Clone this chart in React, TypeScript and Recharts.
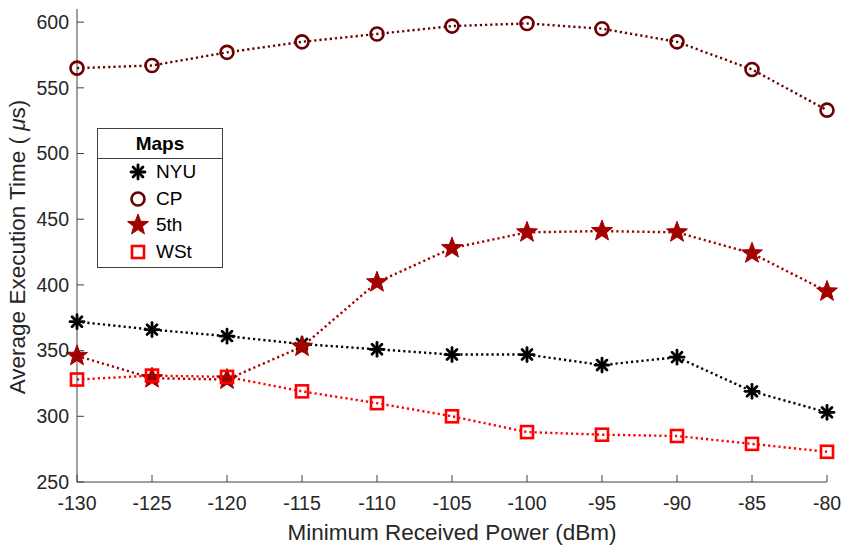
import React from 'react';
import { LineChart, Line, XAxis, YAxis } from 'recharts';

const powerLevels = [-130, -125, -120, -115, -110, -105, -100, -95, -90, -85, -80];
const nyuTimes = [372, 366, 361, 355, 351, 347, 347, 339, 345, 319, 303];
const cpTimes = [565, 567, 577, 585, 591, 597, 599, 595, 585, 564, 533];
const fifthTimes = [346, 329, 328, 353, 402, 428, 440, 441, 440, 424, 395];
const wstTimes = [328, 331, 330, 319, 310, 300, 288, 286, 285, 279, 273];

const xTicks = [-130, -125, -120, -115, -110, -105, -100, -95, -90, -85, -80];
const yTicks = [250, 300, 350, 400, 450, 500, 550, 600];

const data = powerLevels.map((p, i) => ({
  power: p,
  nyu: nyuTimes[i],
  cp: cpTimes[i],
  fifth: fifthTimes[i],
  wst: wstTimes[i],
}));

const FONT = '"Liberation Sans", Arial, Helvetica, sans-serif';
const AXIS = '#404040';
const TEXT = '#262626';
const TICK_LEN = 7;

const COLORS = {
  nyu: '#000000',
  cp: '#6b0000',
  fifth: '#a30000',
  wst: '#ff0000',
};

// Marker shapes
const Asterisk = ({ cx, cy, color = COLORS.nyu, r = 7 }: any) => {
  const spokes = [0, 45, 90, 135];
  return (
    <g stroke={color} strokeWidth={2.8} strokeLinecap="round">
      {spokes.map((a) => {
        const rad = (a * Math.PI) / 180;
        const dx = Math.cos(rad) * r;
        const dy = Math.sin(rad) * r;
        return <line key={a} x1={cx - dx} y1={cy - dy} x2={cx + dx} y2={cy + dy} />;
      })}
    </g>
  );
};

const Ring = ({ cx, cy, color = COLORS.cp }: any) => (
  <circle cx={cx} cy={cy} r={6.5} fill="none" stroke={color} strokeWidth={2.6} />
);

const Star = ({ cx, cy, color = COLORS.fifth, r = 11 }: any) => {
  const pts: string[] = [];
  for (let i = 0; i < 10; i++) {
    const rr = i % 2 === 0 ? r : r * 0.42;
    const a = -Math.PI / 2 + (i * Math.PI) / 5;
    pts.push(`${cx + rr * Math.cos(a)},${cy + rr * Math.sin(a)}`);
  }
  return <polygon points={pts.join(' ')} fill={color} stroke={color} strokeWidth={1} strokeLinejoin="round" />;
};

const Square = ({ cx, cy, color = COLORS.wst }: any) => (
  <rect x={cx - 6} y={cy - 6} width={12} height={12} fill="none" stroke={color} strokeWidth={2.6} />
);

// Inward ticks, MATLAB style
const BottomTick = ({ x, y, payload }: any) => (
  <g>
    <line x1={x} y1={y} x2={x} y2={y - TICK_LEN} stroke={AXIS} />
    <text x={x} y={y + 28} textAnchor="middle" fontSize={19.5} fill={TEXT} fontFamily={FONT}>
      {payload.value}
    </text>
  </g>
);

const LeftTick = ({ x, y, payload }: any) => (
  <g>
    <line x1={x} y1={y} x2={x + TICK_LEN} y2={y} stroke={AXIS} />
    <text x={x - 8} y={y} dy="0.35em" textAnchor="end" fontSize={19.5} fill={TEXT} fontFamily={FONT}>
      {payload.value}
    </text>
  </g>
);

const TopTick = ({ x, y }: any) => <line x1={x} y1={y} x2={x} y2={y + TICK_LEN} stroke={AXIS} />;
const RightTick = ({ x, y }: any) => <line x1={x} y1={y} x2={x - TICK_LEN} y2={y} stroke={AXIS} />;

const YTitle = () => (
  <text
    x={25}
    y={247}
    transform="rotate(-90 25 247)"
    textAnchor="middle"
    fontSize={22.5}
    fill={TEXT}
    fontFamily={FONT}
  >
    Average Execution Time ( <tspan fontStyle="italic">μ</tspan>s)
  </text>
);

const legendItems = [
  { name: 'NYU', Marker: Asterisk },
  { name: 'CP', Marker: Ring },
  { name: '5th', Marker: Star },
  { name: 'WSt', Marker: Square },
];

const MapsLegend = () => (
  <div
    style={{
      position: 'absolute',
      left: 97,
      top: 128,
      width: 124,
      height: 138,
      border: `1px solid ${AXIS}`,
      background: '#fff',
      fontFamily: FONT,
      color: '#000',
    }}
  >
    <div
      style={{
        height: 29,
        borderBottom: `1px solid ${AXIS}`,
        textAlign: 'center',
        fontWeight: 'bold',
        fontSize: 19,
        lineHeight: '29px',
      }}
    >
      Maps
    </div>
    {legendItems.map(({ name, Marker }) => (
      <div key={name} style={{ display: 'flex', alignItems: 'center', height: 26.5, fontSize: 19 }}>
        <svg width={24} height={24} style={{ marginLeft: 28 }}>
          <Marker cx={12} cy={12} />
        </svg>
        <span style={{ marginLeft: 6 }}>{name}</span>
      </div>
    ))}
  </div>
);

const lineProps = {
  type: 'linear' as const,
  strokeWidth: 2.4,
  strokeDasharray: '2.2 3',
  isAnimationActive: false,
  activeDot: false as const,
};

export default function App() {
  return (
    <div style={{ position: 'absolute', left: 0, top: 0, width: 843, height: 549, background: '#fff' }}>
      <LineChart width={843} height={549} data={data} margin={{ top: 9, right: 16, bottom: 0, left: 0 }}>
        <XAxis
          dataKey="power"
          type="number"
          domain={[-130, -80]}
          ticks={xTicks}
          height={67}
          stroke={AXIS}
          tickLine={false}
          tickSize={0}
          tickMargin={0}
          tick={<BottomTick />}
          interval={0}
          label={{
            value: 'Minimum Received Power (dBm)',
            position: 'insideBottom',
            offset: 9,
            fontSize: 22.5,
            fill: TEXT,
            fontFamily: FONT,
          }}
        />
        <XAxis
          xAxisId="top"
          orientation="top"
          dataKey="power"
          type="number"
          domain={[-130, -80]}
          ticks={xTicks}
          height={0}
          stroke={AXIS}
          tickLine={false}
          tickSize={0}
          tickMargin={0}
          tick={<TopTick />}
          interval={0}
        />
        <YAxis
          type="number"
          domain={[250, 610]}
          ticks={yTicks}
          width={77}
          stroke={AXIS}
          tickLine={false}
          tickSize={0}
          tickMargin={0}
          tick={<LeftTick />}
          interval={0}
          allowDataOverflow
          label={<YTitle />}
        />
        <YAxis
          yAxisId="right"
          orientation="right"
          type="number"
          domain={[250, 610]}
          ticks={yTicks}
          width={0}
          stroke={AXIS}
          tickLine={false}
          tickSize={0}
          tickMargin={0}
          tick={<RightTick />}
          interval={0}
          allowDataOverflow
        />
        <Line
          {...lineProps}
          dataKey="nyu"
          stroke={COLORS.nyu}
          dot={(p: any) => <Asterisk key={`nyu-${p.index}`} cx={p.cx} cy={p.cy} />}
        />
        <Line
          {...lineProps}
          dataKey="cp"
          stroke={COLORS.cp}
          dot={(p: any) => <Ring key={`cp-${p.index}`} cx={p.cx} cy={p.cy} />}
        />
        <Line
          {...lineProps}
          dataKey="fifth"
          stroke={COLORS.fifth}
          dot={(p: any) => <Star key={`fifth-${p.index}`} cx={p.cx} cy={p.cy} />}
        />
        <Line
          {...lineProps}
          dataKey="wst"
          stroke={COLORS.wst}
          dot={(p: any) => <Square key={`wst-${p.index}`} cx={p.cx} cy={p.cy} />}
        />
      </LineChart>
      <MapsLegend />
    </div>
  );
}
